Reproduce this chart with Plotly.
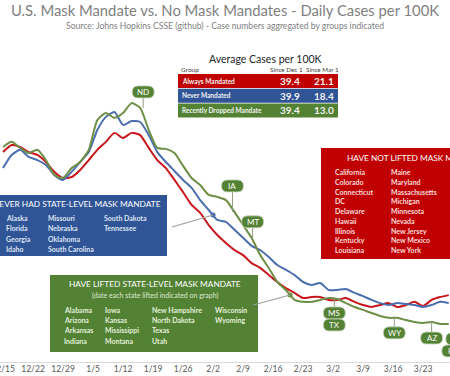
import numpy as np
import pandas as pd
import plotly.graph_objects as go

# ---------------- data ----------------
dates = pd.date_range("2020-12-15", periods=53, freq="2D")

always_mandated = [65.6, 67.8, 67.2, 65.6, 64.7, 62.5, 59.4, 57.5, 57.8, 60.0,
                   63.1, 66.3, 68.8, 71.6, 70.0, 71.6, 70.9, 66.9, 63.1, 60.6,
                   56.9, 53.1, 49.1, 46.6, 42.8, 39.7, 37.2, 35.0, 33.4, 30.9,
                   29.4, 27.2, 25.0, 23.1, 21.6, 20.0, 20.3, 20.3, 19.4, 19.4,
                   20.0, 18.8, 17.8, 17.2, 17.8, 18.4, 17.2, 17.8, 18.8, 17.5,
                   19.4, 20.3, 20.9]
never_mandated = [60.6, 64.7, 66.3, 64.1, 63.1, 61.6, 58.4, 56.9, 59.4, 62.5,
                  65.6, 72.5, 76.6, 78.1, 74.1, 75.3, 75.0, 70.9, 65.6, 62.5,
                  59.7, 56.9, 54.4, 50.6, 47.5, 44.4, 43.8, 41.3, 38.8, 36.3,
                  35.0, 32.8, 30.3, 28.8, 27.2, 25.0, 24.1, 24.7, 22.5, 22.5,
                  22.8, 21.6, 20.6, 19.4, 18.4, 17.8, 18.4, 18.1, 17.8, 17.2,
                  17.8, 18.8, 18.4]
recently_dropped = [67.2, 68.8, 66.9, 65.3, 66.3, 63.1, 58.4, 57.5, 60.6, 62.5,
                    66.3, 75.6, 77.8, 76.3, 77.8, 80.9, 79.4, 72.5, 66.9, 66.6,
                    65.3, 61.3, 57.5, 55.3, 52.2, 51.6, 50.6, 46.9, 42.8, 38.8,
                    33.4, 29.4, 25.0, 22.5, 19.4, 18.8, 18.8, 19.4, 20.0, 19.7,
                    18.4, 17.2, 16.3, 15.3, 14.4, 13.8, 13.8, 13.1, 12.5, 12.2,
                    12.5, 11.9, 11.9]

tick_dates = pd.date_range("2020-12-15", periods=15, freq="7D")
tick_labels = ["12/15", "12/22", "12/29", "1/5", "1/12", "1/19", "1/26", "2/2",
               "2/9", "2/16", "2/23", "3/2", "3/9", "3/16", "3/23"]

table_groups = ["Always Mandated", "Never Mandated", "Recently Dropped Mandate"]
since_dec1 = [39.4, 39.9, 39.4]
since_mar1 = [21.1, 18.4, 13.0]

not_lifted_col1 = ["California", "Colorado", "Connecticut", "DC", "Delaware",
                   "Hawaii", "Illinois", "Kentucky", "Louisiana"]
not_lifted_col2 = ["Maine", "Maryland", "Massachusetts", "Michigan", "Minnesota",
                   "Nevada", "New Jersey", "New Mexico", "New York"]
never_col1 = ["Alaska", "Florida", "Georgia", "Idaho"]
never_col2 = ["Missouri", "Nebraska", "Oklahoma", "South Carolina"]
never_col3 = ["South Dakota", "Tennessee"]
lifted_col1 = ["Alabama", "Arizona", "Arkansas", "Indiana"]
lifted_col2 = ["Iowa", "Kansas", "Mississippi", "Montana"]
lifted_col3 = ["New Hampshire", "North Dakota", "Texas", "Utah"]
lifted_col4 = ["Wisconsin", "Wyoming"]

callout_states = ["ND", "IA", "MT", "MS", "TX", "WY", "AZ", "AR", "KS"]
callout_dates = ["2021-01-16", "2021-02-07", "2021-02-11", "2021-03-03", "2021-03-03",
                 "2021-03-17", "2021-03-25", "2021-03-29", "2021-03-29"]

# ---------------- styling ----------------
RED = "#C00000"
BLUE = "#2F5597"
GREEN = "#548235"
RED_LINE = "#C8161D"
BLUE_LINE = "#4A6EAF"
GREEN_LINE = "#6E8F45"
FONT = "Lato"

W, H_PLOT = 450, 362


def PX(x):
    return x / W


def PY(y):
    return (H_PLOT - y) / H_PLOT


def text(t, x, y, size, color, xanchor="center", bold=False):
    return dict(text=("<b>%s</b>" % t) if bold else t, x=PX(x), y=PY(y), xref="paper", yref="paper",
                xanchor=xanchor, yanchor="middle", showarrow=False,
                font=dict(family=FONT, size=size, color=color))


fig = go.Figure()
for name, vals, col in [("Always Mandated", always_mandated, RED_LINE),
                        ("Never Mandated", never_mandated, BLUE_LINE),
                        ("Recently Dropped Mandate", recently_dropped, GREEN_LINE)]:
    fig.add_trace(go.Scatter(x=dates, y=vals, mode="lines", name=name,
                             line=dict(color=col, width=2, shape="spline", smoothing=0.6),
                             hoverinfo="skip"))

shapes = []
annotations = []

# title
annotations.append(text("U.S. Mask Mandate vs. No Mask Mandates - Daily Cases per 100K", 225, 10, 14.8, "#7F7F7F"))
annotations.append(text("Source: Johns Hopkins CSSE (github) - Case numbers aggregated by groups indicated",
                        225, 26, 8.6, "#808080"))

# table
annotations.append(text("Average Cases per 100K", 265, 59, 10.5, "#262626"))
annotations.append(text("Group", 179, 69, 6.5, "#404040", xanchor="left"))
annotations.append(text("Since Dec 1", 286, 69, 6.3, "#404040"))
annotations.append(text("Since Mar 1", 322, 69, 6.3, "#404040"))
row_cols = [RED, BLUE, GREEN]
for i, (g, a, b) in enumerate(zip(table_groups, since_dec1, since_mar1)):
    y0 = 74 + i * 14.7
    shapes.append(dict(type="rect", xref="paper", yref="paper", x0=PX(178), x1=PX(338),
                       y0=PY(y0), y1=PY(y0 + 14), fillcolor=row_cols[i], line=dict(width=0), layer="above"))
    yc = y0 + 7
    annotations.append(text(g, 180, yc, 6.5, "#F2F2F2", xanchor="left", bold=True))
    annotations.append(text("%.1f" % a, 290, yc, 10, "#F2F2F2", bold=True))
    annotations.append(text("%.1f" % b, 324, yc, 10, "#F2F2F2", bold=True))

# red box
shapes.append(dict(type="rect", xref="paper", yref="paper", x0=PX(321), x1=PX(480), y0=PY(148), y1=PY(259),
                   fillcolor=RED, line=dict(width=0), layer="above"))
annotations.append(text("HAVE NOT LIFTED MASK MANDATE", 345, 158, 8.3, "white", xanchor="left"))
for col, xl in [(not_lifted_col1, 333), (not_lifted_col2, 389)]:
    for ri, s in enumerate(col):
        annotations.append(text(s, xl, 172.3 + ri * 9.7, 7, "#F8DCDC", xanchor="left", bold=True))

# blue box
shapes.append(dict(type="rect", xref="paper", yref="paper", x0=PX(-10), x1=PX(167), y0=PY(195), y1=PY(256),
                   fillcolor=BLUE, line=dict(width=0), layer="above"))
annotations.append(text("NEVER HAD STATE-LEVEL MASK MANDATE", 163, 204, 8.3, "white", xanchor="right"))
for col, xl in [(never_col1, 4), (never_col2, 46), (never_col3, 102)]:
    for ri, s in enumerate(col):
        annotations.append(text(s, xl, 218 + ri * 10.3, 7, "#DCE4F2", xanchor="left", bold=True))

# green box
shapes.append(dict(type="rect", xref="paper", yref="paper", x0=PX(50), x1=PX(258), y0=PY(275), y1=PY(352),
                   fillcolor=GREEN, line=dict(width=0), layer="above"))
annotations.append(text("HAVE LIFTED STATE-LEVEL MASK MANDATE", 155, 284, 8.3, "white"))
annotations.append(text("(date each state lifted indicated on graph)", 155, 295, 7, "#DDE8D2"))
for col, xl in [(lifted_col1, 62), (lifted_col2, 103), (lifted_col3, 150), (lifted_col4, 213)]:
    for ri, s in enumerate(col):
        annotations.append(text(s, xl, 310 + ri * 10.2, 7, "#E2EFDA", xanchor="left", bold=True))

# connectors from boxes to lines
xnum = dates.astype("int64").to_numpy()


def at(series, d):
    return float(np.interp(pd.Timestamp(d).value, xnum, series))


blue_pt_date = "2021-02-02"
green_pt_date = "2021-02-20"
conn = [(blue_pt_date, at(never_mandated, blue_pt_date), -41, -12),
        (green_pt_date, at(recently_dropped, green_pt_date), -37, -10)]
for d, v, dx, dy in conn:
    shapes.append(dict(type="line", xref="x", yref="y", xsizemode="pixel", ysizemode="pixel",
                       xanchor=d, yanchor=v, x0=0, y0=0, x1=dx, y1=dy,
                       line=dict(color="#9AA09A", width=1.2), layer="above"))
fig.add_trace(go.Scatter(x=[conn[0][0], conn[1][0]], y=[conn[0][1], conn[1][1]], mode="markers",
                         marker=dict(color=[BLUE_LINE, GREEN_LINE], size=5), hoverinfo="skip"))

# state callouts
callout_offsets = {"ND": (3, 16), "IA": (-2, 26), "MT": (1, 16), "MS": (-3, -14), "TX": (-3, -26),
                   "WY": (-3, -15), "AZ": (0, -16), "AR": (8, -15), "KS": (4, -27)}
for st, d in zip(callout_states, callout_dates):
    v = at(recently_dropped, d)
    dx, dy = callout_offsets[st]
    if st not in ("TX", "KS"):
        shapes.append(dict(type="line", xref="x", yref="y", xsizemode="pixel", ysizemode="pixel",
                           xanchor=d, yanchor=v, x0=dx, y0=0, x1=dx, y1=dy,
                           line=dict(color="#8E9C80", width=1), layer="above"))
    w2, h2, r = 11, 6, 6
    x0, x1, y0, y1 = dx - w2, dx + w2, dy - h2, dy + h2
    path = ("M %g,%g L %g,%g Q %g,%g %g,%g Q %g,%g %g,%g L %g,%g Q %g,%g %g,%g Q %g,%g %g,%g Z" %
            (x0 + r, y0, x1 - r, y0, x1, y0, x1, dy, x1, y1, x1 - r, y1, x0 + r, y1,
             x0, y1, x0, dy, x0, y0, x0 + r, y0))
    shapes.append(dict(type="path", xref="x", yref="y", xsizemode="pixel", ysizemode="pixel",
                       xanchor=d, yanchor=v, path=path, fillcolor=GREEN,
                       line=dict(color="#C9D6BD", width=0.8), layer="above"))
    annotations.append(dict(text=st, x=d, y=v, xref="x", yref="y", xshift=dx, yshift=dy, showarrow=False,
                            xanchor="center", yanchor="middle",
                            font=dict(family=FONT, size=8, color="white")))

fig.update_layout(
    width=450, height=376,
    margin=dict(l=0, r=0, t=0, b=14),
    paper_bgcolor="white", plot_bgcolor="white",
    showlegend=False,
    shapes=shapes, annotations=annotations,
    xaxis=dict(type="date", range=["2020-12-14 07:00", "2021-03-29 07:00"],
               tickmode="array", tickvals=tick_dates, ticktext=tick_labels,
               showgrid=False, showline=True, linecolor="#D9D9D9", linewidth=1,
               ticks="", ticklabelstandoff=-1, ticklabeloverflow="allow", automargin=False,
               tickfont=dict(family=FONT, size=8.5, color="#595959"), zeroline=False),
    yaxis=dict(range=[0, H_PLOT / 3.2], showgrid=False, showticklabels=False, zeroline=False,
               showline=False, ticks="", automargin=False),
)

fig.write_html("out.html", config={"displayModeBar": False},
               post_script="document.body.style.margin='0px';")
